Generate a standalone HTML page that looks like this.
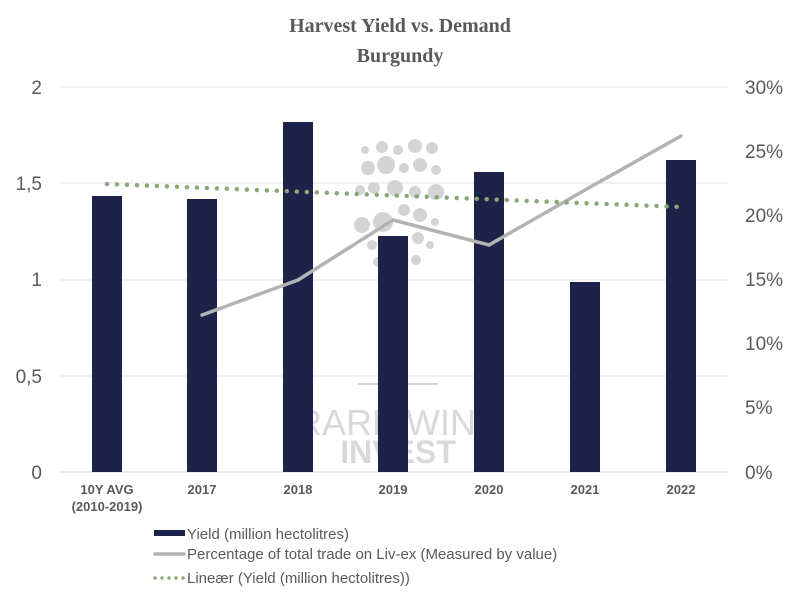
<!DOCTYPE html>
<html><head><meta charset="utf-8"><style>
body{margin:0;background:#fff;}
svg{display:block;}
</style></head><body>
<svg width="800" height="600" xmlns="http://www.w3.org/2000/svg" font-family="Liberation Sans, sans-serif">
<rect width="800" height="600" fill="#fff"/>
<text x="400" y="32" text-anchor="middle" font-family="Liberation Serif, serif" font-weight="bold" font-size="20" fill="#595959">Harvest Yield vs. Demand</text>
<text x="400" y="62" text-anchor="middle" font-family="Liberation Serif, serif" font-weight="bold" font-size="20" fill="#595959">Burgundy</text>
<g stroke="#e3e3e3" stroke-width="1">
<line x1="60" y1="87" x2="728" y2="87"/>
<line x1="60" y1="183" x2="728" y2="183"/>
<line x1="60" y1="280" x2="728" y2="280"/>
<line x1="60" y1="376" x2="728" y2="376"/>
<line x1="60" y1="472" x2="728" y2="472" stroke="#d9d9d9"/>
</g>
<g fill="#d4d4d4">
<circle cx="365" cy="150" r="4"/><circle cx="382" cy="147" r="6"/><circle cx="398" cy="150" r="5"/><circle cx="415" cy="146" r="7"/><circle cx="432" cy="148" r="6"/>
<circle cx="368" cy="168" r="7"/><circle cx="386" cy="165" r="9"/><circle cx="404" cy="168" r="5"/><circle cx="420" cy="165" r="7"/><circle cx="436" cy="170" r="5"/>
<circle cx="360" cy="190" r="5"/><circle cx="374" cy="188" r="6"/><circle cx="395" cy="188" r="8"/><circle cx="415" cy="192" r="6"/><circle cx="436" cy="192" r="8"/>
<circle cx="362" cy="225" r="8"/><circle cx="383" cy="222" r="10"/><circle cx="404" cy="210" r="6"/><circle cx="420" cy="215" r="7"/><circle cx="435" cy="222" r="4"/>
<circle cx="372" cy="245" r="5"/><circle cx="388" cy="243" r="6"/><circle cx="418" cy="238" r="6"/><circle cx="430" cy="245" r="4"/>
<circle cx="378" cy="262" r="5"/><circle cx="398" cy="264" r="4"/><circle cx="416" cy="260" r="5"/>
</g>
<line x1="358" y1="384" x2="438" y2="384" stroke="#d4d4d4" stroke-width="2"/>
<text x="398" y="435" text-anchor="middle" font-size="36" fill="#d9d9d9">RARE WINE</text>
<text x="398" y="463" text-anchor="middle" font-size="32" font-weight="bold" fill="#d9d9d9">INVEST</text>
<g fill="#1c2248">
<rect x="92" y="196" width="30" height="276"/>
<rect x="187" y="199" width="30" height="273"/>
<rect x="283" y="122" width="30" height="350"/>
<rect x="378" y="236" width="30" height="236"/>
<rect x="474" y="172" width="30" height="300"/>
<rect x="570" y="282" width="30" height="190"/>
<rect x="666" y="160" width="30" height="312"/>
</g>
<polyline points="202,315 298,280 393,220 489,245 585,190 681,136" fill="none" stroke="#b3b3b3" stroke-width="3.5" stroke-linejoin="miter" stroke-linecap="round"/>
<line x1="107" y1="184" x2="681" y2="207" stroke="#8aa67a" stroke-width="4.5" stroke-dasharray="0 10" stroke-linecap="round"/>
<g font-size="19" fill="#595959" text-anchor="end">
<text x="42" y="94">2</text>
<text x="42" y="190">1,5</text>
<text x="42" y="286">1</text>
<text x="42" y="383">0,5</text>
<text x="42" y="479">0</text>
</g>
<g font-size="19" fill="#595959" text-anchor="start">
<text x="745" y="94">30%</text>
<text x="745" y="158">25%</text>
<text x="745" y="222">20%</text>
<text x="745" y="286">15%</text>
<text x="745" y="350">10%</text>
<text x="745" y="414">5%</text>
<text x="745" y="479">0%</text>
</g>
<g font-size="13" font-weight="bold" fill="#595959" text-anchor="middle">
<text x="107" y="494">10Y AVG</text>
<text x="107" y="511">(2010-2019)</text>
<text x="202" y="494">2017</text>
<text x="298" y="494">2018</text>
<text x="393" y="494">2019</text>
<text x="489" y="494">2020</text>
<text x="585" y="494">2021</text>
<text x="681" y="494">2022</text>
</g>
<rect x="154" y="530" width="31" height="6" fill="#1c2248"/>
<line x1="155" y1="554" x2="184" y2="554" stroke="#b3b3b3" stroke-width="3.5" stroke-linecap="round"/>
<line x1="155" y1="578" x2="184" y2="578" stroke="#8aa67a" stroke-width="3.5" stroke-dasharray="0 7" stroke-linecap="round"/>
<g font-size="15" fill="#595959">
<text x="187" y="539">Yield (million hectolitres)</text>
<text x="187" y="559">Percentage of total trade on Liv-ex (Measured by value)</text>
<text x="187" y="583">Lineær (Yield (million hectolitres))</text>
</g>
</svg>
</body></html>
